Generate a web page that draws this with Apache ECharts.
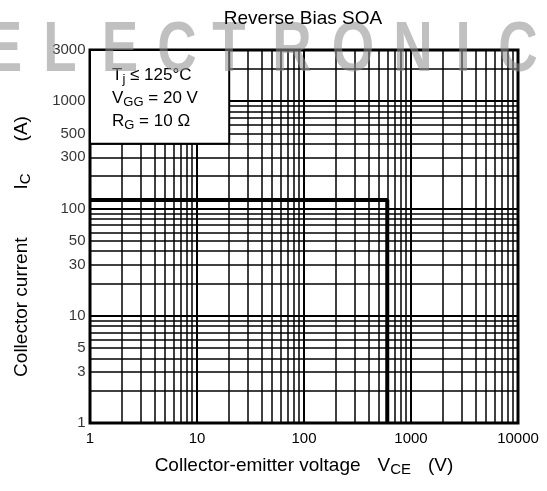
<!DOCTYPE html>
<html><head><meta charset="utf-8">
<script src="https://cdn.jsdelivr.net/npm/echarts@6/dist/echarts.min.js"></script>
<style>html,body{margin:0;padding:0;background:#fff}#c{width:547px;height:491px}</style>
</head><body><div id="c"></div>
<script>
// ---- data ----
const xTickValues = [1, 10, 100, 1000, 10000];
const yTickValues = [1, 3, 5, 10, 30, 50, 100, 300, 500, 1000, 3000];
const soaVce = [1, 600, 600];
const soaIc = [120, 120, 1];
const boxVce = [1, 20];
const boxIc = [400, 3000];
const watermarkLetters = ['E', 'L', 'E', 'C', 'T', 'R', 'O', 'N', 'I', 'C'];
const watermarkX = [4, 60, 120, 177, 229, 292, 353, 413, 463, 518];

// gridline values (log decades with 2..9 minors)
const xGridValues = [];
for (let k = 0; k < 4; k++) for (let m = 1; m <= 9; m++) { const v = m * Math.pow(10, k); if (v > 1 && v < 10000) xGridValues.push(v); }
const yGridValues = [];
for (let k = 0; k < 4; k++) for (let m = 1; m <= 9; m++) { const v = m * Math.pow(10, k); if (v > 1 && v < 3000) yGridValues.push(v); }

const FONT = 'Liberation Sans, Arial, Helvetica, sans-serif';
const isDecade = v => Math.abs(Math.log10(v) - Math.round(Math.log10(v))) < 1e-9;

const chart = echarts.init(document.getElementById('c'), null, {renderer: 'canvas'});
const gridLines = []
  .concat(xGridValues.map(v => ({xAxis: v, lineStyle: {width: isDecade(v) ? 2 : 1.5}})))
  .concat(yGridValues.map(v => ({yAxis: v, lineStyle: {width: isDecade(v) ? 2 : 1.5}})));

chart.setOption({
  animation: false,
  backgroundColor: '#fff',
  textStyle: {fontFamily: FONT},
  grid: {left: 90, right: 29, top: 50, bottom: 68, show: true, borderColor: '#000', borderWidth: 3, backgroundColor: 'transparent'},
  xAxis: {
    type: 'log', logBase: 10, min: 1, max: 10000,
    axisLine: {show: false}, axisTick: {show: false}, splitLine: {show: false},
    axisLabel: {fontSize: 15, color: '#000', margin: 8, fontFamily: FONT,
      formatter: v => String(Math.round(v))},
    name: '{a|Collector-emitter voltage}{g|}{a|V}{s|CE}{g|}{a|(V)}',
    nameLocation: 'middle', nameGap: 31,
    nameTextStyle: {rich: {
      a: {fontSize: 19, color: '#000', fontFamily: FONT},
      s: {fontSize: 15, color: '#000', fontFamily: FONT, padding: [8, 0, 0, 0]},
      g: {width: 17}
    }}
  },
  yAxis: {
    type: 'log', logBase: 10, min: 1, max: 3000,
    axisLine: {show: false}, axisTick: {show: false}, splitLine: {show: false},
    axisLabel: {show: false},
    name: '{a|Collector current}{g1|}{a|I}{s|C}{g2|}{a|(A)}',
    nameLocation: 'middle', nameRotate: 90, nameGap: 57,
    nameTextStyle: {padding: [0, 20, 0, 0], rich: {
      a: {fontSize: 19, color: '#000', fontFamily: FONT},
      s: {fontSize: 15, color: '#000', fontFamily: FONT, padding: [8, 0, 0, 0]},
      g1: {width: 48},
      g2: {width: 32}
    }}
  },
  graphic: [
    {type: 'group', z: 100, silent: true,
      children: watermarkLetters.map((ch, i) => ({
        type: 'text', x: watermarkX[i], y: 52, scaleX: 0.78, z: 100,
        style: {text: ch, textAlign: 'center', textVerticalAlign: 'middle', fontSize: 70, fontWeight: 'bold', fontFamily: FONT, fill: '#8e8e8e', opacity: 0.56}
      }))},
    {type: 'text', x: 303, y: 19, z: 200,
      style: {text: 'Reverse Bias SOA', textAlign: 'center', textVerticalAlign: 'middle', fontSize: 19, fontFamily: FONT, fill: '#000'}}
  ],
  series: [
    {
      type: 'line', z: 3, silent: true,
      data: soaVce.map((x, i) => [x, soaIc[i]]),
      symbol: 'none',
      lineStyle: {color: '#000', width: 4},
      markLine: {
        silent: true, symbol: ['none', 'none'], label: {show: false},
        lineStyle: {color: '#000', type: 'solid', width: 1.5},
        emphasis: {disabled: true},
        data: gridLines
      }
    },
    {
      type: 'custom', z: 10, silent: true, clip: false,
      encode: {x: [0, 2], y: [1, 3]},
      data: [[boxVce[0], boxIc[1], boxVce[1], boxIc[0]]],
      renderItem: (params, api) => {
        const p0 = api.coord([api.value(0), api.value(1)]);
        const p1 = api.coord([api.value(2), api.value(3)]);
        return {type: 'group', children: [
          {type: 'rect', shape: {x: p0[0], y: p0[1], width: p1[0] - p0[0], height: p1[1] - p0[1]},
            style: {fill: '#fff', stroke: '#000', lineWidth: 2}},
          {type: 'text', x: p0[0] + 22, y: p0[1] + 14,
            style: {
              text: '{m|T}{s|j}{m| ≤ 125°C}\n{m|V}{s|GG}{m| = 20 V}\n{m|R}{s|G}{m| = 10 Ω}',
              fill: '#000', fontFamily: FONT,
              rich: {
                m: {fontSize: 17, lineHeight: 23, fontFamily: FONT, fill: '#000'},
                s: {fontSize: 13, fontFamily: FONT, fill: '#000', padding: [7, 0, 0, 0]}
              }
            }}
        ]};
      }
    },
    {
      type: 'scatter', z: 4, silent: true, clip: false,
      data: yTickValues.map(v => [1, v]),
      symbolSize: 1,
      itemStyle: {color: 'rgba(0,0,0,0)'},
      label: {show: true, position: 'left', distance: 4, color: '#000', fontSize: 15, fontFamily: FONT,
        formatter: p => String(p.value[1])}
    }
  ]
});
</script>
</body></html>
